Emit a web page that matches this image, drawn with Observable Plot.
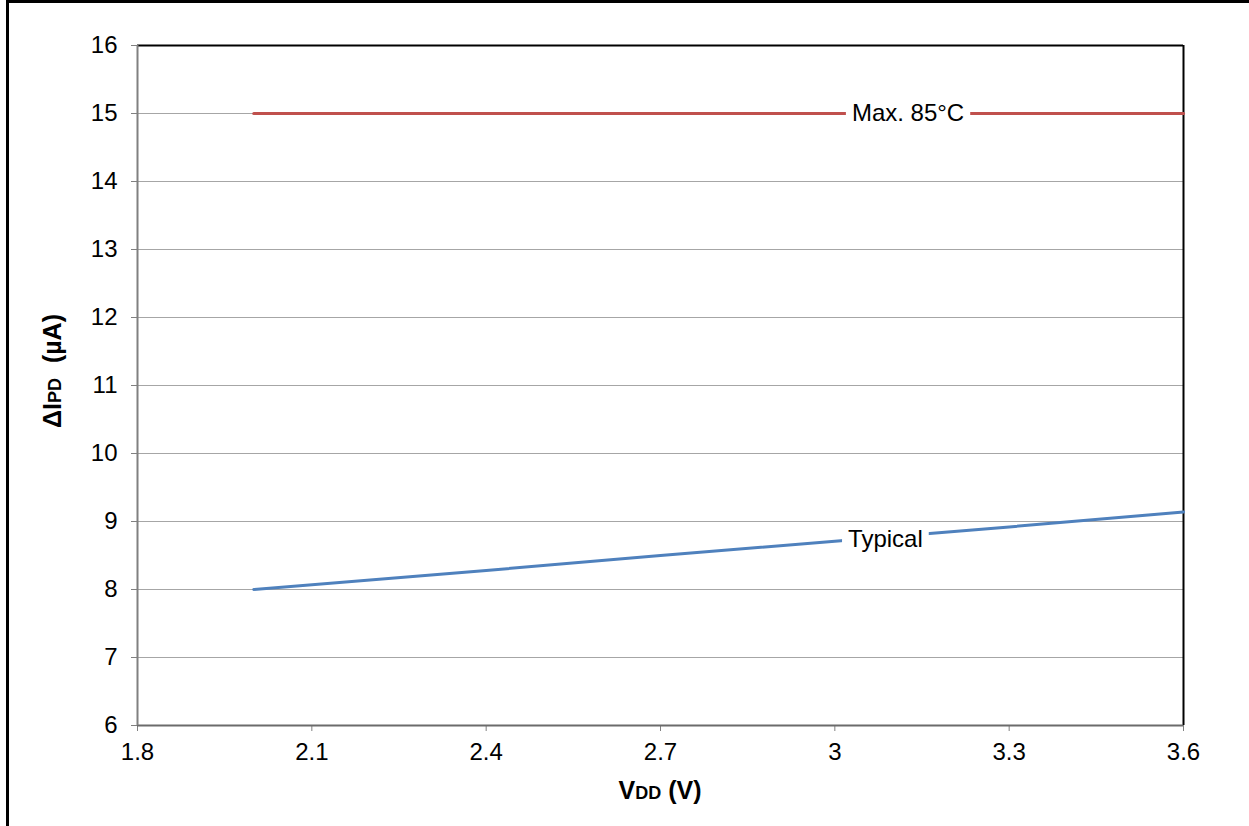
<!DOCTYPE html>
<html>
<head>
<meta charset="utf-8">
<script src="https://cdn.jsdelivr.net/npm/d3@7"></script>
<script src="https://cdn.jsdelivr.net/npm/@observablehq/plot@0.6"></script>
<style>
  html, body { margin: 0; padding: 0; background: #fff; }
  #chart svg { display: block; }
</style>
</head>
<body>
<div id="chart"></div>
<script>
// ---- data ----
const vdd = [2.0, 2.4, 2.7, 3.0, 3.3, 3.6];
const typical = [8.0, 8.28, 8.5, 8.71, 8.92, 9.14];
const max85 = [15, 15, 15, 15, 15, 15];
const seriesNames = ["Max. 85°C", "Typical"];
const labelX = [3.126, 3.087];
const labelY = [15, 8.74];
const xTicks = [1.8, 2.1, 2.4, 2.7, 3.0, 3.3, 3.6];
const yTicks = [6, 7, 8, 9, 10, 11, 12, 13, 14, 15, 16];

const rows = [];
vdd.forEach((v, i) => {
  rows.push({series: seriesNames[0], x: v, y: max85[i]});
  rows.push({series: seriesNames[1], x: v, y: typical[i]});
});
const labels = seriesNames.map((s, i) => ({text: s, x: labelX[i], y: labelY[i]}));

const W = 1249, H = 826;
const plot = Plot.plot({
  width: W,
  height: H,
  marginLeft: 137,
  marginRight: 66,
  marginTop: 45,
  marginBottom: 101,
  style: "font: 24px 'Liberation Sans', Arial, sans-serif; background: #fff; color: #000;",
  x: {domain: [1.8, 3.6], label: null},
  y: {domain: [6, 16], label: null},
  color: {domain: seriesNames, range: ["#c0504d", "#4f81bd"]},
  marks: [
    Plot.gridY(yTicks, {stroke: "#a6a6a6", strokeOpacity: 1, strokeWidth: 1}),
    Plot.axisY(yTicks, {tickSize: 6, tickPadding: 14, stroke: "#808080", fill: "#000", fontSize: 24, tickFormat: d => String(d)}),
    Plot.axisX(xTicks, {tickSize: 6, tickPadding: 11, stroke: "#808080", fill: "#000", fontSize: 24, tickFormat: d => String(d)}),
    Plot.ruleY([16], {stroke: "#000", strokeWidth: 2}),
    Plot.ruleX([3.6], {stroke: "#000", strokeWidth: 2}),
    Plot.ruleY([6], {stroke: "#6b6b6b", strokeWidth: 2}),
    Plot.ruleX([1.8], {stroke: "#808080", strokeWidth: 2}),
    Plot.line(rows, {x: "x", y: "y", z: "series", stroke: "series", strokeWidth: 3}),
    Plot.text(labels, {x: "x", y: "y", text: "text", fill: "#000", fontSize: 24, className: "series-label"})
  ]
});
document.getElementById("chart").appendChild(plot);

const svg = d3.select(plot);
// white boxes behind the series labels
svg.selectAll("g.series-label text").each(function () {
  const b = this.getBBox();
  const t = this.getAttribute("transform");
  const r = document.createElementNS("http://www.w3.org/2000/svg", "rect");
  r.setAttribute("x", b.x - 6);
  r.setAttribute("y", b.y);
  r.setAttribute("width", b.width + 12);
  r.setAttribute("height", b.height);
  r.setAttribute("fill", "#fff");
  if (t) r.setAttribute("transform", t);
  this.parentNode.insertBefore(r, this);
});

// outer frame (top and left edges visible in reference)
svg.append("line").attr("x1", 6).attr("x2", W).attr("y1", 1.5).attr("y2", 1.5).attr("stroke", "#000").attr("stroke-width", 3);
svg.append("line").attr("x1", 7.5).attr("x2", 7.5).attr("y1", 0).attr("y2", H).attr("stroke", "#000").attr("stroke-width", 3);

// x-axis title
const xt = svg.append("text")
  .attr("x", (137 + (W - 66)) / 2).attr("y", 799)
  .attr("text-anchor", "middle")
  .attr("font-weight", "bold").attr("font-size", 25).attr("fill", "#000");
xt.append("tspan").text("V");
xt.append("tspan").attr("font-size", 18).text("DD");
xt.append("tspan").text(" (V)");

// y-axis title
const yt = svg.append("text")
  .attr("transform", `translate(61,371) rotate(-90)`)
  .attr("text-anchor", "middle")
  .attr("font-weight", "bold").attr("font-size", 25).attr("fill", "#000");
yt.append("tspan").text("ΔI");
yt.append("tspan").attr("font-size", 18).text("PD");
yt.append("tspan").attr("dx", 8).text(" (µA)");
</script>
</body>
</html>
